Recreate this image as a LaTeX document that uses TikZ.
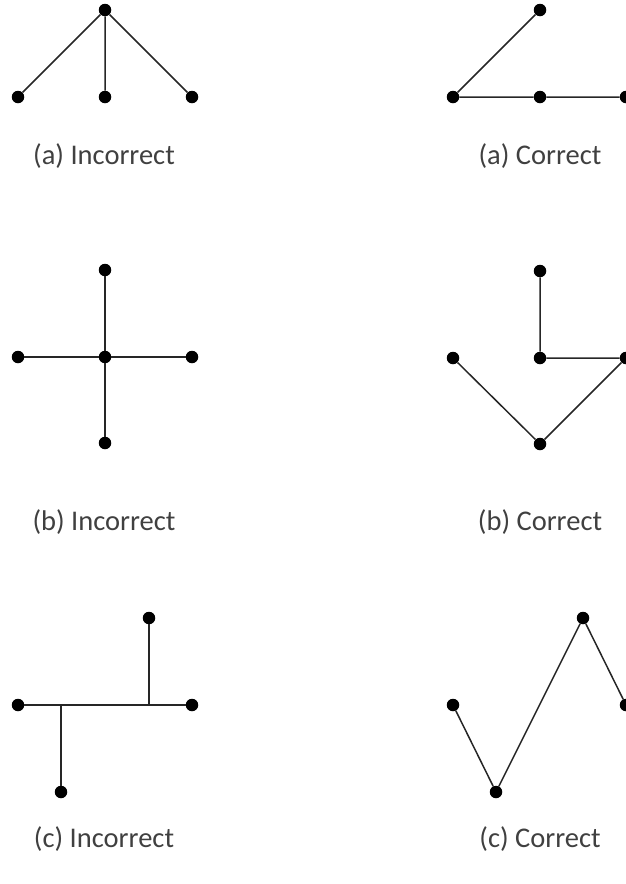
\documentclass[tikz,border=0pt]{standalone}
\usepackage{fontspec}
\setmainfont{Carlito}
\begin{document}
\begin{tikzpicture}[x=1pt,y=-1pt,
  dot/.style={circle,fill=black,inner sep=0pt,minimum size=12.5pt},
  edge/.style={line width=1.5pt,draw=black!85},
  lbl/.style={text=black!75,font=\fontsize{28.5}{32}\selectfont,inner sep=0pt}]
\useasboundingbox (0,0) rectangle (626,884);
% (a) Incorrect
\node[dot] (a1t) at (105,10) {};
\node[dot] (a1l) at (18,97) {};
\node[dot] (a1m) at (105,97) {};
\node[dot] (a1r) at (192,97) {};
\draw[edge] (a1t) -- (a1l) (a1t) -- (a1m) (a1t) -- (a1r);
\node[lbl] (la1) at (104,156) {(a) Incorrect};
% (a) Correct
\node[dot] (a2t) at (540,10) {};
\node[dot] (a2l) at (453,97) {};
\node[dot] (a2m) at (540,97) {};
\node[dot] (a2r) at (626,97) {};
\draw[edge] (a2l) -- (a2t) (a2l) -- (a2m) -- (a2r);
\node[lbl] (la2) at (540,156) {(a) Correct};
% (b) Incorrect
\node[dot] (b1t) at (105,270) {};
\node[dot] (b1l) at (18,357) {};
\node[dot] (b1c) at (105,357) {};
\node[dot] (b1r) at (192,357) {};
\node[dot] (b1b) at (105,443) {};
\draw[edge] (b1t) -- (b1c) -- (b1b) (b1l) -- (b1c) -- (b1r);
\node[lbl] (lb1) at (104,522) {(b) Incorrect};
% (b) Correct
\node[dot] (b2t) at (540,271) {};
\node[dot] (b2c) at (540,358) {};
\node[dot] (b2l) at (453,358) {};
\node[dot] (b2r) at (626,358) {};
\node[dot] (b2b) at (540,444) {};
\draw[edge] (b2t) -- (b2c) -- (b2r) -- (b2b) -- (b2l);
\node[lbl] (lb2) at (540,522) {(b) Correct};
% (c) Incorrect
\node[dot] (c1l) at (18,705) {};
\node[dot] (c1r) at (192,705) {};
\node[dot] (c1t) at (149,618) {};
\node[dot] (c1b) at (61,792) {};
\coordinate (j1) at (61,705);
\coordinate (j2) at (149,705);
\draw[edge] (c1l) -- (c1r) (c1t) -- (j2) (j1) -- (c1b);
\node[lbl] (lc1) at (104,839) {(c) Incorrect};
% (c) Correct
\node[dot] (c2a) at (453,705) {};
\node[dot] (c2b) at (496,792) {};
\node[dot] (c2c) at (583,618) {};
\node[dot] (c2d) at (626,705) {};
\draw[edge] (c2a) -- (c2b) -- (c2c) -- (c2d);
\node[lbl] (lc2) at (540,839) {(c) Correct};
\end{tikzpicture}
\end{document}
